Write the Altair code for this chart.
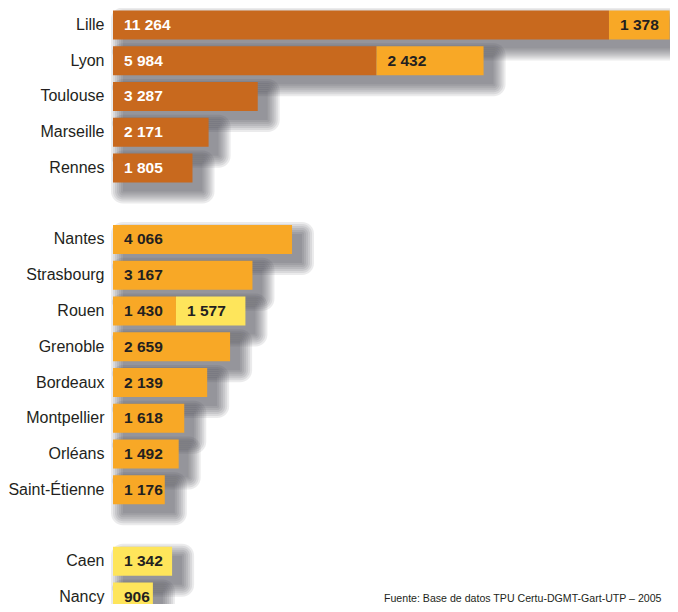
import altair as alt
import pandas as pd

cities = ["Lille", "Lyon", "Toulouse", "Marseille", "Rennes",
          "Nantes", "Strasbourg", "Rouen", "Grenoble", "Bordeaux",
          "Montpellier", "Orléans", "Saint-Étienne",
          "Caen", "Nancy"]
first_values = [11264, 5984, 3287, 2171, 1805,
                4066, 3167, 1430, 2659, 2139, 1618, 1492, 1176,
                1342, 906]
first_kind = ["A", "A", "A", "A", "A",
              "B", "B", "B", "B", "B", "B", "B", "B",
              "C", "C"]
second_values = [1378, 2432, 0, 0, 0,
                 0, 0, 1577, 0, 0, 0, 0, 0,
                 0, 0]
second_kind = ["B", "B", "", "", "",
               "", "", "C", "", "", "", "", "",
               "", ""]
row_order = ["Lille", "Lyon", "Toulouse", "Marseille", "Rennes", " ",
             "Nantes", "Strasbourg", "Rouen", "Grenoble", "Bordeaux",
             "Montpellier", "Orléans", "Saint-Étienne", "  ",
             "Caen", "Nancy"]
kinds = ["A", "B", "C"]
kind_colors = ["#C8691E", "#F8A826", "#FEE55B"]
footer = "Fuente: Base de datos TPU Certu-DGMT-Gart-UTP – 2005"


def fmt(v):
    return f"{v:,}".replace(",", " ")


seg_rows = []
tot_rows = []
for c, v1, k1, v2, k2 in zip(cities, first_values, first_kind, second_values, second_kind):
    seg_rows.append({"city": c, "start": 0, "end": v1, "kind": k1, "label": fmt(v1)})
    if v2:
        seg_rows.append({"city": c, "start": v1, "end": v1 + v2, "kind": k2, "label": fmt(v2)})
    tot_rows.append({"city": c, "start": 0, "end": v1 + v2})
seg = pd.DataFrame(seg_rows)
tot = pd.DataFrame(tot_rows)

FONT = "Liberation Sans, Arial, sans-serif"

yenc = alt.Y("city:N",
             scale=alt.Scale(domain=row_order, range=[-1, 607],
                             paddingInner=0.2, paddingOuter=0.1),
             axis=alt.Axis(title=None, domain=False, ticks=False, grid=False,
                           labelFont=FONT, labelFontSize=16,
                           labelColor="#231F20", labelPadding=9))
xenc = alt.X("start:Q", scale=alt.Scale(domain=[0, 12650], nice=False),
             axis=None)

layers = []
for r in [0, 2, 4, 6, 8, 10, 12]:
    layers.append(
        alt.Chart(tot).mark_bar(color="#3A3F47", opacity=0.1,
                                height=29 + 2 * r, xOffset=10 - r, x2Offset=10 + r,
                                yOffset=9, cornerRadius=r)
        .encode(x=xenc, x2="end:Q", y=yenc)
    )

bars = alt.Chart(seg).mark_bar(height=29).encode(
    x=xenc, x2="end:Q", y=yenc,
    color=alt.Color("kind:N", scale=alt.Scale(domain=kinds, range=kind_colors), legend=None),
)

labels = alt.Chart(seg).mark_text(
    align="left", baseline="middle", dx=11, font=FONT,
    fontSize=15.5, fontWeight="bold",
).encode(
    x=xenc, y=yenc, text="label:N",
    color=alt.condition("datum.kind == 'A'", alt.value("#FFFFFF"), alt.value("#231F20")),
)

foot = alt.Chart(pd.DataFrame({"t": [footer]})).mark_text(
    align="left", baseline="alphabetic", font=FONT, fontSize=10.6, color="#231F20",
).encode(text="t:N", x=alt.value(271), y=alt.value(594))

chart = alt.layer(*layers, bars, labels, foot).properties(
    width=557, height=596,
    autosize="none",
    padding={"left": 105, "top": 0, "right": 0, "bottom": 0},
    background="white",
).configure_view(stroke=None)

chart.save("out.html", embed_options={"renderer": "svg", "actions": False})
